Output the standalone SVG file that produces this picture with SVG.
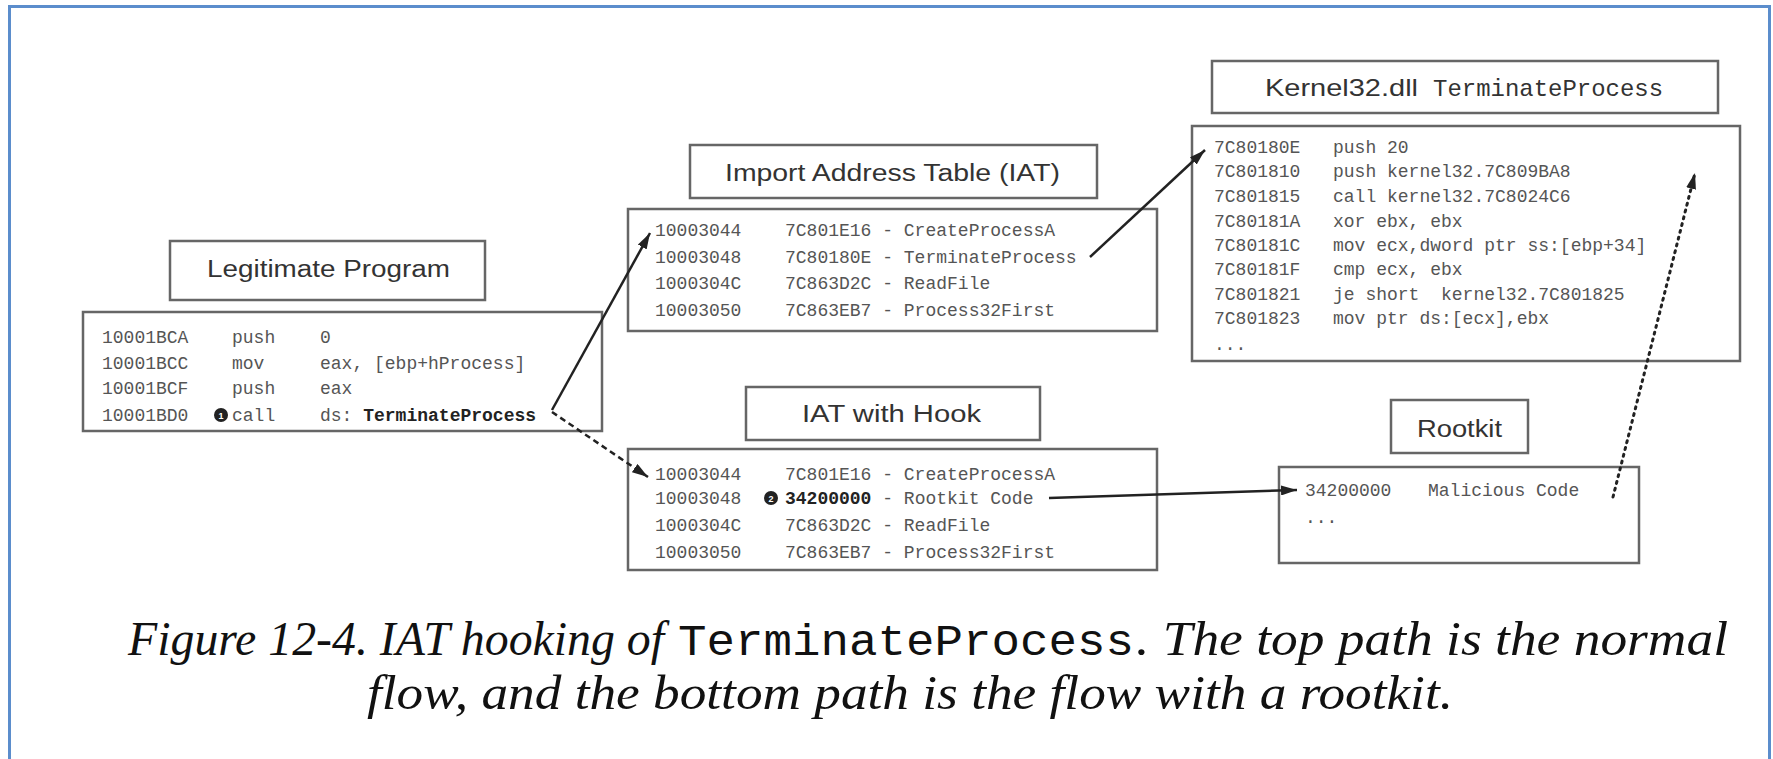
<svg xmlns="http://www.w3.org/2000/svg" width="1773" height="759" viewBox="0 0 1773 759">
<style>
.frame{fill:none;stroke:#5b8dcc;stroke-width:3}
.box{fill:#fff;stroke:#666;stroke-width:2.5}
.title{font-family:"Liberation Sans",Arial,sans-serif;font-size:23px;fill:#333}
.code{font-family:"Liberation Mono","DejaVu Sans Mono",monospace;font-size:18px;fill:#555;white-space:pre}
.dark{fill:#222;font-weight:bold}
.tmono{font-family:"Liberation Mono","DejaVu Sans Mono",monospace;font-size:24px;fill:#333}
.cap{font-family:"Liberation Serif","Times New Roman",serif;font-style:italic;font-size:48px;fill:#111}
.capmono{font-family:"Liberation Mono","DejaVu Sans Mono",monospace;font-size:44px;fill:#111}
.num{font-family:"Liberation Sans",Arial,sans-serif;font-size:9px;font-weight:bold;fill:#fff;text-anchor:middle}
.conn{fill:none;stroke:#222;stroke-width:2.5}
.dash{stroke-dasharray:6,4}
.dot{stroke-dasharray:2,5;stroke-linecap:round;stroke-width:3}
</style>
<defs>
<marker id="ah" markerUnits="userSpaceOnUse" markerWidth="16" markerHeight="10" refX="16" refY="5" orient="auto">
<path d="M0,0 L16,5 L0,10 z" fill="#222"/>
</marker>
</defs>
<rect width="1773" height="759" fill="#fff"/>
<rect class="frame" x="9.5" y="6.5" width="1760" height="800"/>

<g id="legit">
<rect class="box" x="170" y="241" width="315" height="59"/>
<text class="title" x="207" y="277" textLength="243" lengthAdjust="spacingAndGlyphs">Legitimate Program</text>
<rect class="box" x="83" y="312" width="519" height="119"/>
<text class="code" x="102" y="343">10001BCA</text><text class="code" x="232" y="343">push</text><text class="code" x="320" y="343">0</text>
<text class="code" x="102" y="369">10001BCC</text><text class="code" x="232" y="369">mov</text><text class="code" x="320" y="369">eax, [ebp+hProcess]</text>
<text class="code" x="102" y="394">10001BCF</text><text class="code" x="232" y="394">push</text><text class="code" x="320" y="394">eax</text>
<text class="code" x="102" y="421">10001BD0</text>
<circle cx="221" cy="415" r="7" fill="#222"/><text class="num" x="221" y="418.5">1</text>
<text class="code" x="232" y="421">call</text><text class="code" x="320" y="421">ds: <tspan class="dark">TerminateProcess</tspan></text>
</g>

<g id="iat">
<rect class="box" x="690" y="145" width="407" height="53"/>
<text class="title" x="725" y="181" textLength="335" lengthAdjust="spacingAndGlyphs">Import Address Table (IAT)</text>
<rect class="box" x="628" y="209" width="529" height="122"/>
<text class="code" x="655" y="236">10003044</text><text class="code" x="785" y="236">7C801E16 - CreateProcessA</text>
<text class="code" x="655" y="263">10003048</text><text class="code" x="785" y="263">7C80180E - TerminateProcess</text>
<text class="code" x="655" y="289">1000304C</text><text class="code" x="785" y="289">7C863D2C - ReadFile</text>
<text class="code" x="655" y="316">10003050</text><text class="code" x="785" y="316">7C863EB7 - Process32First</text>
</g>

<g id="kernel">
<rect class="box" x="1212" y="61" width="506" height="52"/>
<text class="title" x="1265" y="96" textLength="153" lengthAdjust="spacingAndGlyphs" style="font-size:24px">Kernel32.dll</text>
<text class="tmono" x="1433" y="96" textLength="230" lengthAdjust="spacingAndGlyphs">TerminateProcess</text>
<rect class="box" x="1192" y="126" width="548" height="235"/>
<text class="code" x="1214" y="153">7C80180E</text><text class="code" x="1333" y="153">push 20</text>
<text class="code" x="1214" y="177">7C801810</text><text class="code" x="1333" y="177">push kernel32.7C809BA8</text>
<text class="code" x="1214" y="202">7C801815</text><text class="code" x="1333" y="202">call kernel32.7C8024C6</text>
<text class="code" x="1214" y="227">7C80181A</text><text class="code" x="1333" y="227">xor ebx, ebx</text>
<text class="code" x="1214" y="251">7C80181C</text><text class="code" x="1333" y="251">mov ecx,dword ptr ss:[ebp+34]</text>
<text class="code" x="1214" y="275">7C80181F</text><text class="code" x="1333" y="275">cmp ecx, ebx</text>
<text class="code" x="1214" y="300">7C801821</text><text class="code" x="1333" y="300" xml:space="preserve">je short  kernel32.7C801825</text>
<text class="code" x="1214" y="324">7C801823</text><text class="code" x="1333" y="324">mov ptr ds:[ecx],ebx</text>
<text class="code" x="1214" y="350">...</text>
</g>

<g id="hook">
<rect class="box" x="746" y="387" width="294" height="53"/>
<text class="title" x="802" y="422" textLength="179" lengthAdjust="spacingAndGlyphs">IAT with Hook</text>
<rect class="box" x="628" y="449" width="529" height="121"/>
<text class="code" x="655" y="480">10003044</text><text class="code" x="785" y="480">7C801E16 - CreateProcessA</text>
<text class="code" x="655" y="504">10003048</text>
<circle cx="771" cy="498" r="7" fill="#222"/><text class="num" x="771" y="501.5">2</text>
<text class="code" x="785" y="504"><tspan class="dark">34200000</tspan> - Rootkit Code</text>
<text class="code" x="655" y="531">1000304C</text><text class="code" x="785" y="531">7C863D2C - ReadFile</text>
<text class="code" x="655" y="558">10003050</text><text class="code" x="785" y="558">7C863EB7 - Process32First</text>
</g>

<g id="rootkit">
<rect class="box" x="1391" y="400" width="137" height="53"/>
<text class="title" x="1417" y="437" textLength="85" lengthAdjust="spacingAndGlyphs">Rootkit</text>
<rect class="box" x="1279" y="467" width="360" height="96"/>
<text class="code" x="1305" y="496">34200000</text><text class="code" x="1428" y="496">Malicious Code</text>
<text class="code" x="1305" y="523">...</text>
</g>

<g id="connectors">
<line class="conn" x1="552" y1="410" x2="650" y2="233" marker-end="url(#ah)"/>
<line class="conn dash" x1="552" y1="412" x2="648" y2="477" marker-end="url(#ah)"/>
<line class="conn" x1="1090" y1="257" x2="1205" y2="150" marker-end="url(#ah)"/>
<line class="conn" x1="1049" y1="498" x2="1297" y2="490" marker-end="url(#ah)"/>
<line class="conn dot" x1="1613" y1="497" x2="1695" y2="173" marker-end="url(#ah)"/>
</g>

<g id="caption">
<text class="cap" x="128" y="655" textLength="536" lengthAdjust="spacingAndGlyphs">Figure 12-4. IAT hooking of</text>
<text class="capmono" x="678" y="655" textLength="456" lengthAdjust="spacingAndGlyphs">TerminateProcess</text>
<text class="cap" x="1136" y="655" textLength="592" lengthAdjust="spacingAndGlyphs">. The top path is the normal</text>
<text class="cap" x="367" y="709" textLength="1086" lengthAdjust="spacingAndGlyphs">flow, and the bottom path is the flow with a rootkit.</text>
</g>
</svg>
